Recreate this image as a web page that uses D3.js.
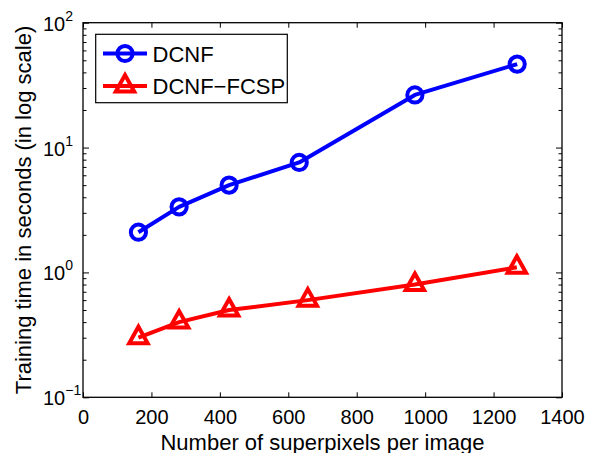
<!DOCTYPE html>
<html><head><meta charset="utf-8">
<script src="https://cdn.jsdelivr.net/npm/d3@7"></script>
<style>body{margin:0;background:#fff}svg{display:block}text{font-family:"Liberation Sans",Arial,Helvetica,sans-serif}</style>
</head><body><svg id="c" width="597" height="453"></svg>
<script>
const xDCNF = [162, 281, 427, 632, 970, 1269];
const yDCNF = [2.1, 3.35, 5.0, 7.6, 26.4, 46.6];
const xFCSP = [162, 281, 427, 657, 970, 1268];
const yFCSP = [0.3, 0.4, 0.5, 0.6, 0.8, 1.1];
const seriesNames = ["DCNF", "DCNF\u2212FCSP"];
const xTicks = [0, 200, 400, 600, 800, 1000, 1200, 1400];
const yTickExps = [-1, 0, 1, 2];
const xTitle = "Number of superpixels per image";
const yTitle = "Training time in seconds (in log scale)";

const svg = d3.select("#c");
const L = 83, R = 562, T = 22.7, B = 397.3;
const x = d3.scaleLinear().domain([0, 1400]).range([L, R]);
const y = d3.scaleLog().domain([0.1, 100]).range([B, T]);

const g = svg.append("g");
const minor = [];
for (let e = -1; e < 2; e++) for (let k = 2; k <= 9; k++) minor.push(k * Math.pow(10, e));

const bx = g.append("g").attr("transform", `translate(0,${B})`)
  .call(d3.axisBottom(x).tickValues(xTicks).tickSize(-5).tickPadding(13).tickFormat(d3.format("d")));
g.append("g").attr("transform", `translate(0,${T})`)
  .call(d3.axisTop(x).tickValues(xTicks).tickSize(-5).tickFormat(""));
g.append("g").attr("transform", `translate(${L},0)`)
  .call(d3.axisLeft(y).tickValues(yTickExps.map(e => Math.pow(10, e))).tickSize(-6).tickFormat(""));
g.append("g").attr("transform", `translate(${L},0)`)
  .call(d3.axisLeft(y).tickValues(minor).tickSize(-3.5).tickFormat(""));
g.append("g").attr("transform", `translate(${R},0)`)
  .call(d3.axisRight(y).tickValues(yTickExps.map(e => Math.pow(10, e))).tickSize(-6).tickFormat(""));
g.append("g").attr("transform", `translate(${R},0)`)
  .call(d3.axisRight(y).tickValues(minor).tickSize(-3.5).tickFormat(""));
g.selectAll(".domain").remove();
g.selectAll(".tick line").attr("stroke", "#000").attr("stroke-width", 1);
bx.selectAll("text").attr("font-size", 20).attr("fill", "#000").attr("font-family", "Liberation Sans, Arial, sans-serif");
g.append("rect").attr("x", L).attr("y", T).attr("width", R - L).attr("height", B - T)
  .attr("fill", "none").attr("stroke", "#000").attr("stroke-width", 1.3);

yTickExps.forEach(e => {
  const yy = y(Math.pow(10, e));
  const t = svg.append("text").attr("x", 43).attr("y", yy + 8).attr("font-size", 20).attr("fill", "#000");
  t.append("tspan").text("10");
  t.append("tspan").attr("font-size", 14).attr("dy", -10).text(e < 0 ? "\u2212" + Math.abs(e) : String(e));
});

svg.append("text").attr("x", (L + R) / 2).attr("y", 449.5).attr("text-anchor", "middle")
  .attr("font-size", 22).attr("fill", "#000").text(xTitle);
svg.append("text").attr("transform", `translate(30.5,${(T + B) / 2}) rotate(-90)`).attr("text-anchor", "middle")
  .attr("font-size", 22).attr("fill", "#000").text(yTitle);

const line = d3.line().x(d => x(d[0])).y(d => y(d[1]));
const dataA = xDCNF.map((v, i) => [v, yDCNF[i]]);
const dataB = xFCSP.map((v, i) => [v, yFCSP[i]]);
const blue = "#0000ff", red = "#ff0000";
const LW = 4;
svg.append("path").datum(dataA).attr("d", line).attr("fill", "none").attr("stroke", blue).attr("stroke-width", LW).attr("stroke-linejoin", "round");
svg.append("path").datum(dataB).attr("d", line).attr("fill", "none").attr("stroke", red).attr("stroke-width", LW).attr("stroke-linejoin", "round");

function circ(sel, cx, cy) {
  sel.append("circle").attr("cx", cx).attr("cy", cy).attr("r", 7.6)
    .attr("fill", "none").attr("stroke", blue).attr("stroke-width", 4);
}
function tri(sel, cx, cy) {
  const h = 16.5, w = 9.2;
  sel.append("path").attr("d", `M${cx},${cy - h * 2 / 3}L${cx + w},${cy + h / 3}L${cx - w},${cy + h / 3}Z`)
    .attr("fill", "none").attr("stroke", red).attr("stroke-width", 4).attr("stroke-linejoin", "miter");
}
dataA.forEach(d => circ(svg, x(d[0]), y(d[1])));
dataB.forEach(d => tri(svg, x(d[0]), y(d[1])));

const lg = svg.append("g");
lg.append("rect").attr("x", 95.7).attr("y", 34.3).attr("width", 191.6).attr("height", 68.4)
  .attr("fill", "#fff").attr("stroke", "#000").attr("stroke-width", 1.2);
const ly1 = 53.5, ly2 = 86;
lg.append("line").attr("x1", 103).attr("x2", 147).attr("y1", ly1).attr("y2", ly1).attr("stroke", blue).attr("stroke-width", LW);
circ(lg, 125, ly1);
lg.append("line").attr("x1", 103).attr("x2", 147).attr("y1", ly2).attr("y2", ly2).attr("stroke", red).attr("stroke-width", LW);
tri(lg, 125, ly2);
lg.append("text").attr("x", 152.5).attr("y", ly1 + 8).attr("font-size", 22).attr("fill", "#000").text(seriesNames[0]);
lg.append("text").attr("x", 152.5).attr("y", ly2 + 8).attr("font-size", 22).attr("fill", "#000").text(seriesNames[1]);
</script></body></html>
